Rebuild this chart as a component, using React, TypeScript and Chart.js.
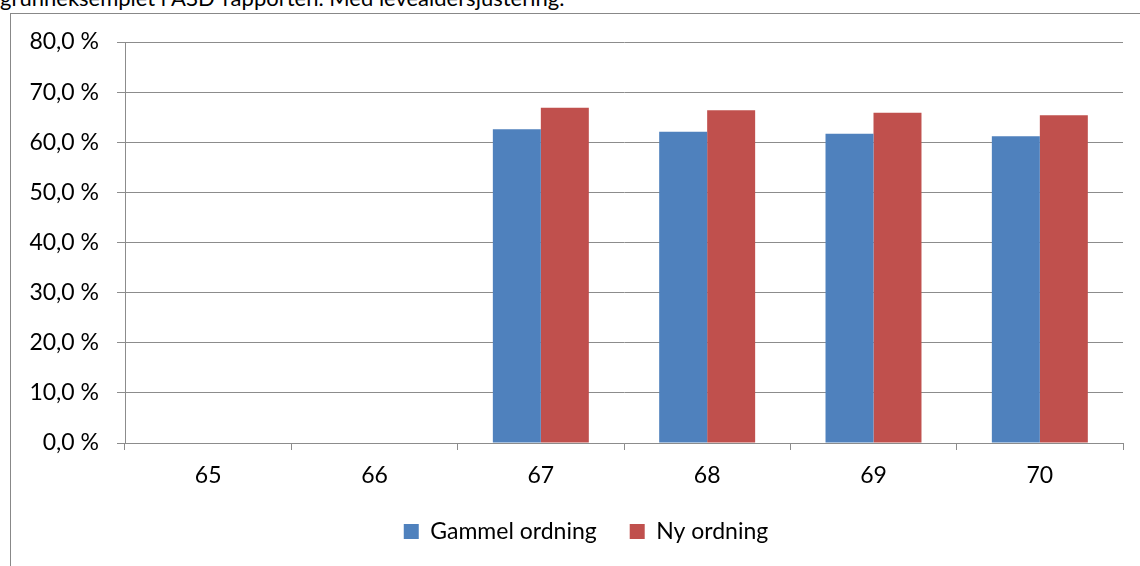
import React, { useEffect, useRef } from "react";
import { Chart, registerables } from "chart.js";

Chart.register(...registerables);

const categories = ["65", "66", "67", "68", "69", "70"];
const gammelOrdning = [null, null, 62.6, 62.1, 61.7, 61.2];
const nyOrdning = [null, null, 66.9, 66.4, 65.9, 65.4];
const yTickValues = [0, 10, 20, 30, 40, 50, 60, 70, 80];
const titleText = "grunneksemplet i ASD-rapporten. Med levealdersjustering.";

const FONT = "Lato, 'Open Sans', sans-serif";
const GRID = "#8c8c8c";

export default function App() {
  const canvasRef = useRef<HTMLCanvasElement | null>(null);

  useEffect(() => {
    document.body.style.margin = "0";
    const ctx = canvasRef.current;
    if (!ctx) return;
    const chart = new Chart(ctx, {
      type: "bar",
      data: {
        labels: categories,
        datasets: [
          {
            label: "Gammel ordning",
            data: gammelOrdning,
            backgroundColor: "#4F81BD",
            categoryPercentage: 0.577,
            barPercentage: 1,
          },
          {
            label: "Ny ordning",
            data: nyOrdning,
            backgroundColor: "#C0504D",
            categoryPercentage: 0.577,
            barPercentage: 1,
          },
        ],
      },
      options: {
        animation: false,
        responsive: false,
        maintainAspectRatio: false,
        layout: { padding: { left: 0, top: 42, right: 18, bottom: 13 } },
        plugins: {
          tooltip: { enabled: false },
          legend: {
            position: "bottom",
            labels: {
              font: { family: FONT, size: 23 },
              color: "#000",
              boxWidth: 15,
              boxHeight: 15,
              padding: 33,
            },
          },
        },
        scales: {
          x: {
            afterFit: (s: any) => {
              s.height = 44;
            },
            grid: {
              drawOnChartArea: false,
              drawTicks: true,
              tickLength: 7,
              color: GRID,
              offset: true,
            },
            border: { color: GRID, width: 1 },
            ticks: {
              font: { family: FONT, size: 23 },
              color: "#000",
              padding: 12,
            },
          },
          y: {
            min: 0,
            max: 80,
            afterFit: (s: any) => {
              s.width = 125;
            },
            afterBuildTicks: (s: any) => {
              s.ticks = yTickValues.map((v) => ({ value: v }));
            },
            grid: {
              color: GRID,
              tickLength: 8,
              drawTicks: true,
            },
            border: { color: GRID, width: 1 },
            ticks: {
              font: { family: FONT, size: 23 },
              color: "#000",
              padding: 18,
              callback: (v: any) => Number(v).toFixed(1).replace(".", ",") + " %",
            },
          },
          spacer: {
            type: "linear",
            position: "right",
            display: true,
            afterFit: (s: any) => {
              s.width = 49;
            },
            grid: { display: false, drawOnChartArea: false, drawTicks: false },
            border: { display: false },
            ticks: { display: false },
          },
        },
      },
    });
    return () => chart.destroy();
  }, []);

  return (
    <div
      style={{
        position: "fixed",
        left: 0,
        top: 0,
        width: 1140,
        height: 566,
        overflow: "hidden",
        background: "#fff",
      }}
    >
      <div
        style={{
          position: "absolute",
          left: 0,
          top: -13,
          fontFamily: FONT,
          fontSize: 22,
          lineHeight: "22px",
          color: "#000",
          whiteSpace: "nowrap",
        }}
      >
        {titleText}
      </div>
      <div
        style={{
          position: "absolute",
          left: 10,
          top: 13,
          width: 1200,
          height: 600,
          borderLeft: "1px solid #888",
          borderTop: "1px solid #888",
        }}
      />
      <canvas
        ref={canvasRef}
        width={1190}
        height={566}
        style={{ position: "absolute", left: 0, top: 0, width: 1190, height: 566 }}
      />
    </div>
  );
}
